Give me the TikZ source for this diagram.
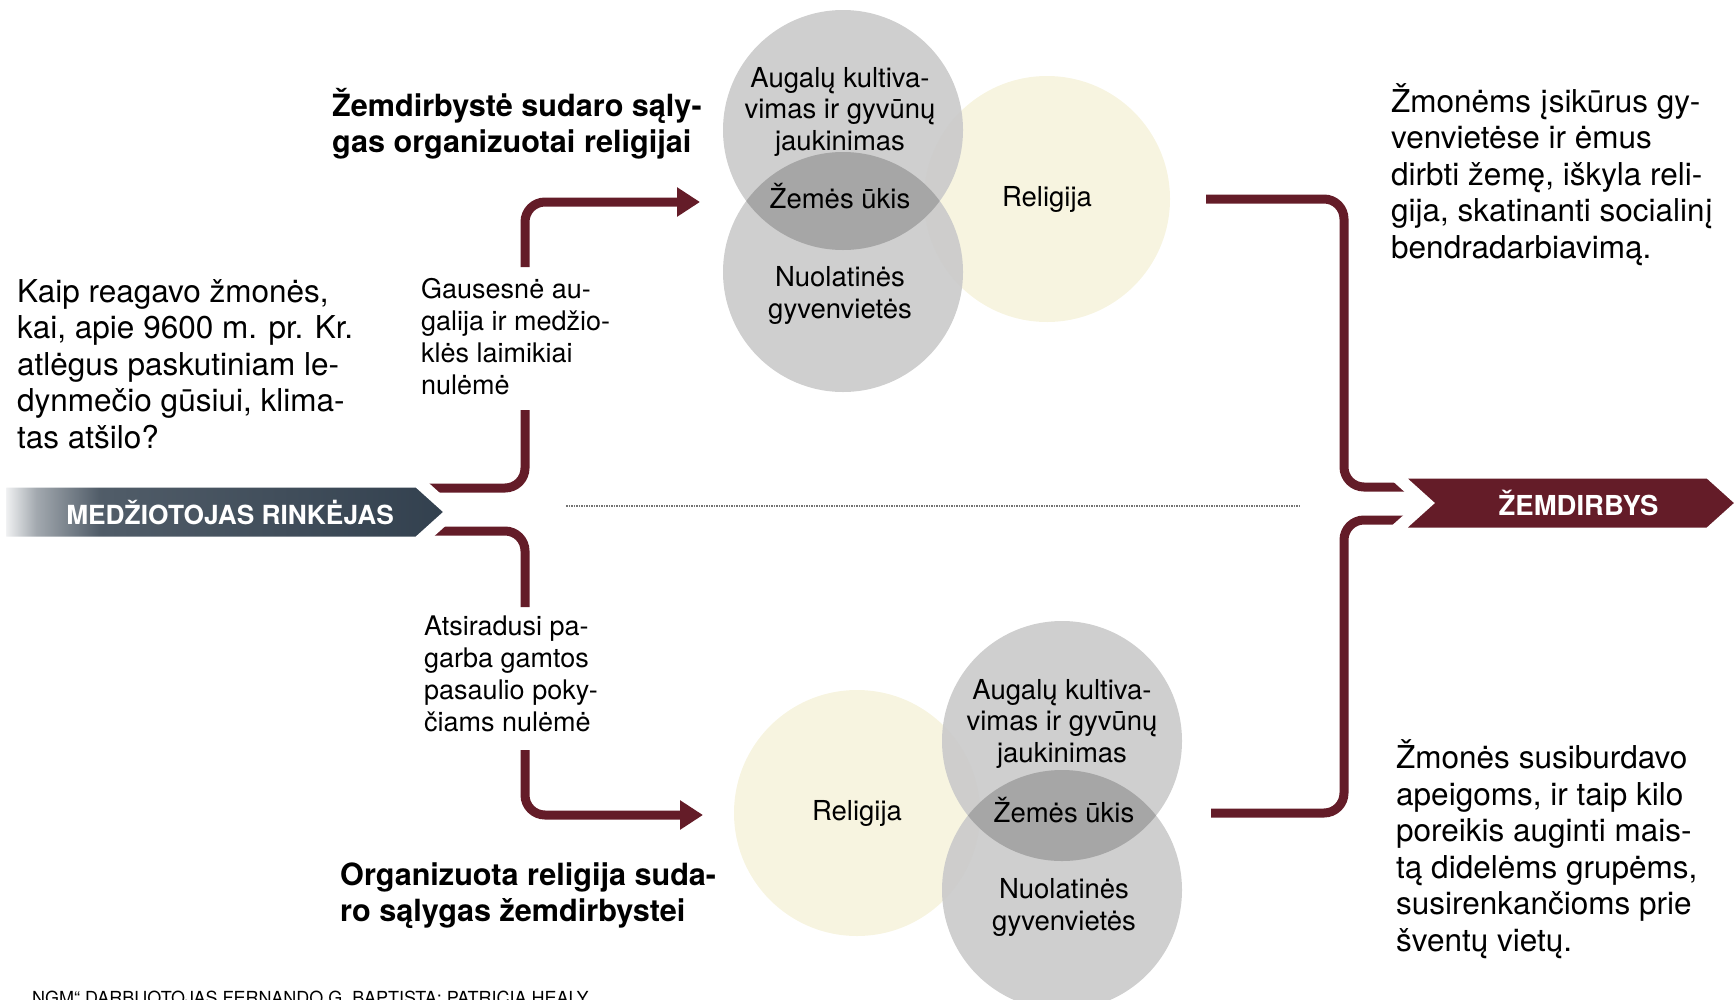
\documentclass[tikz,border=0pt]{standalone}
\usepackage{fontspec}
\setmainfont{TeX Gyre Heros}
\usetikzlibrary{arrows.meta,positioning,shapes.symbols}

\definecolor{linkred}{RGB}{100,28,40}
\definecolor{slate}{RGB}{50,64,78}
\definecolor{cream}{RGB}{247,244,224}
\definecolor{cropgray}{RGB}{203,203,203}
\definecolor{landgray}{RGB}{166,166,166}
\pgfdeclarehorizontalshading{huntershade}{100bp}{color(0bp)=(white); color(25bp)=(white); color(29bp)=(slate!45); color(36bp)=(slate!85); color(75bp)=(slate); color(100bp)=(slate)}

\begin{document}
\begin{tikzpicture}
        [x=1pt, y=-1pt,
         txt/.style={inner sep=0pt, align=left, anchor=base west, font=\fontsize{31.5}{36.5}\selectfont},
         note/.style={txt, font=\fontsize{27}{32}\selectfont},
         head/.style={txt, font=\fontsize{30.6}{35.4}\selectfont\bfseries},
         venntxt/.style={inner sep=0pt, align=center, anchor=base, font=\fontsize{27.5}{31.5}\selectfont},
         crop/.style={circle, fill=cropgray, opacity=.93, minimum size=240pt, inner sep=0pt},
         faith/.style={circle, fill=cream, minimum size=246pt, inner sep=0pt, font=\fontsize{27.5}{31.5}\selectfont},
         link/.style={draw=linkred, line width=9pt, rounded corners=20pt},
         linkarrow/.style={link, -{Triangle[length=23pt,width=28pt]}},
         banner/.style={signal, signal pointer angle=84, minimum height=61pt, inner sep=0pt, draw=white, line width=12pt, text=white}]
        \useasboundingbox (0,0) rectangle (1734,999);

        % upper venn
        \node [faith] (relA) at (1047,199) {Religija};
        \node [crop] (cropA) at (843,130) {};
        \node [crop] (homeA) at (843,272) {};
        \begin{scope}
            \clip (cropA.center) circle [radius=120pt];
            \fill [landgray] (homeA.center) circle [radius=120pt];
        \end{scope}
        \node [venntxt] (plantA) at (840,150) {Augalų kultiva-\\vimas ir gyvūnų\\jaukinimas};
        \node [venntxt] (landA) at (840,208) {Žemės ūkis};
        \node [venntxt] (settleA) at (840,318) {Nuolatinės\\gyvenvietės};

        % lower venn
        \node [faith] (relB) at (857,813) {Religija};
        \node [crop] (cropB) at (1062,741) {};
        \node [crop] (homeB) at (1062,890) {};
        \begin{scope}
            \clip (cropB.center) circle [radius=120pt];
            \fill [landgray] (homeB.center) circle [radius=120pt];
        \end{scope}
        \node [venntxt] (plantB) at (1062,762) {Augalų kultiva-\\vimas ir gyvūnų\\jaukinimas};
        \node [venntxt] (landB) at (1064,822) {Žemės ūkis};
        \node [venntxt] (settleB) at (1064,930) {Nuolatinės\\gyvenvietės};

        % texts
        \node [txt] (ask) at (17,448) {Kaip reagavo žmonės,\\kai, apie 9600 m. pr. Kr.\\atlėgus paskutiniam le-\\dynmečio gūsiui, klima-\\tas atšilo?};
        \node [head] (headA) at (332,152) {Žemdirbystė sudaro sąly-\\gas organizuotai religijai};
        \node [head] (headB) at (340,921) {Organizuota religija suda-\\ro sąlygas žemdirbystei};
        \node [note] (noteA) at (421,394) {Gausesnė au-\\galija ir medžio-\\klės laimikiai\\nulėmė};
        \node [note] (noteB) at (424,731) {Atsiradusi pa-\\garba gamtos\\pasaulio poky-\\čiams nulėmė};
        \node [txt] (resA) at (1391,258) {Žmonėms įsikūrus gy-\\venvietėse ir ėmus\\dirbti žemę, iškyla reli-\\gija, skatinanti socialinį\\bendradarbiavimą.};
        \node [txt] (resB) at (1396,951) {Žmonės susiburdavo\\apeigoms, ir taip kilo\\poreikis auginti mais-\\tą didelėms grupėms,\\susirenkančioms prie\\šventų vietų.};
        \node [txt, font=\fontsize{18}{20}\selectfont] (credit) at (26,1004) {„NGM“ DARBUOTOJAS FERNANDO G. BAPTISTA; PATRICIA HEALY};

        % connectors
        \coordinate (hu) at (418,488);
        \coordinate (hd) at (418,531);
        \coordinate (gapAlow) at (525,410);
        \coordinate (gapAtop) at (525,267);
        \coordinate (gapBtop) at (525,607);
        \coordinate (gapBlow) at (525,750);
        \coordinate (toA) at (700,202);
        \coordinate (toB) at (703,815);
        \coordinate (fromA) at (1206,199);
        \coordinate (fromB) at (1211,813);
        \coordinate (fu) at (1438,487);
        \coordinate (fd) at (1438,520);

        \draw [link] (hu) -| (gapAlow);
        \draw [linkarrow] (gapAtop) |- (toA);
        \draw [link] (hd) -| (gapBtop);
        \draw [linkarrow] (gapBlow) |- (toB);
        \draw [link] (fromA) -| ([xshift=-94pt]fu) -- (fu);
        \draw [link] (fromB) -| ([xshift=-94pt]fd) -- (fd);

        \draw [black!55, densely dotted, line width=1.5pt] (566,506) -- (1300,506);

        % banners (the white rim cuts the connector ends)
        \node [banner, signal to=east, shade, shading=huntershade, minimum width=452pt, anchor=west,
               font=\fontsize{26.3}{30}\selectfont\bfseries] (hunter) at (-6,512) {\hspace*{42pt}MEDŽIOTOJAS RINKĖJAS};
        \node [banner, signal from=west, signal to=east, fill=linkred, minimum width=351pt, anchor=east,
               font=\fontsize{27.5}{30}\selectfont\bfseries] (farmer) at (1752,503) {\hspace*{22pt}ŽEMDIRBYS};
\end{tikzpicture}
\end{document}
